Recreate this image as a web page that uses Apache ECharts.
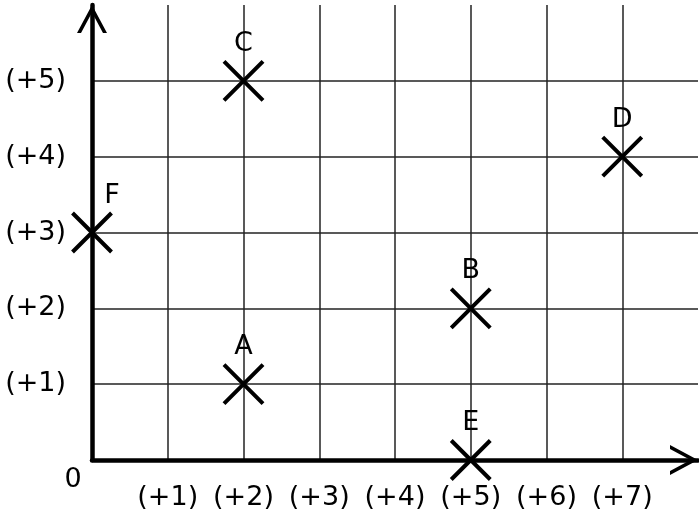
<!DOCTYPE html>
<html>
<head>
<meta charset="utf-8">
<script src="https://cdn.jsdelivr.net/npm/echarts@6/dist/echarts.min.js"></script>
<style>
  html, body { margin: 0; padding: 0; background: #fff; }
  #main { width: 699px; height: 521px; }
</style>
</head>
<body>
<div id="main"></div>
<script>
// 点的数据
const pointNames = ['A', 'B', 'C', 'D', 'E', 'F'];
const pointX = [2, 5, 2, 7, 5, 0];
const pointY = [1, 2, 5, 4, 0, 3];
// 刻度标签
const xTickLabels = ['', '(+1)', '(+2)', '(+3)', '(+4)', '(+5)', '(+6)', '(+7)'];
const yTickLabels = ['', '(+1)', '(+2)', '(+3)', '(+4)', '(+5)'];
const originLabel = '0';

const FONT = 'DejaVu Sans';
const FONT_SIZE = 27;
// 空心箭头（开口的V形）
const openArrow = 'path://M15,0L30,28L26,28L15,7.5L4,28L0,28Z';

var chartDom = document.getElementById('main');
var myChart = echarts.init(chartDom);

var points = [];
for (var i = 0; i < pointNames.length; i++) {
    var item = {
        name: pointNames[i],
        value: [pointX[i], pointY[i]]
    };
    // 在y轴上的点，标签往右挪一点
    if (pointX[i] === 0) {
        item.label = { offset: [20, -37] };
    }
    points.push(item);
}

var axisCommon = {
    type: 'value',
    min: 0,
    interval: 1,
    axisLine: {
        show: true,
        symbol: ['none', openArrow],
        symbolSize: [30, 28],
        symbolOffset: [0, -14],
        lineStyle: { color: '#000', width: 4.5 }
    },
    axisTick: { show: false },
    splitLine: {
        show: true,
        showMinLine: false,
        showMaxLine: false,
        lineStyle: { color: '#222', width: 1.5 }
    }
};

var option = {
    animation: false,
    backgroundColor: '#fff',
    grid: { left: 92, right: 1, top: 5, bottom: 61, containLabel: false, outerBoundsMode: 'none' },
    xAxis: Object.assign({}, axisCommon, {
        max: 8,
        axisLabel: {
            margin: 24,
            fontSize: FONT_SIZE,
            fontFamily: FONT,
            color: '#000',
            showMaxLabel: false,
            formatter: function (v) { return xTickLabels[v] || ''; }
        }
    }),
    yAxis: Object.assign({}, axisCommon, {
        max: 6,
        axisLabel: {
            margin: 26,
            fontSize: FONT_SIZE,
            fontFamily: FONT,
            color: '#000',
            showMaxLabel: false,
            formatter: function (v) { return yTickLabels[v] || ''; }
        }
    }),
    series: [
        {
            type: 'scatter',
            data: points,
            clip: false,
            symbol: 'path://M0,0L10,10M10,0L0,10',
            symbolSize: 39,
            itemStyle: { color: 'transparent', borderColor: '#000', borderWidth: 4, opacity: 1 },
            label: {
                show: true,
                position: 'inside',
                offset: [0, -37],
                formatter: '{b}',
                fontSize: FONT_SIZE,
                fontFamily: FONT,
                color: '#000'
            },
            z: 5
        }
    ]
};
myChart.setOption(option);

// 原点的 "0"，放在原点左下方
var origin = myChart.convertToPixel({ gridIndex: 0 }, [0, 0]);
myChart.setOption({
    graphic: [{
        type: 'text',
        x: origin[0] - 19,
        y: origin[1] + 20,
        style: {
            text: originLabel,
            fontSize: FONT_SIZE,
            fontFamily: FONT,
            fill: '#000',
            align: 'center',
            verticalAlign: 'middle'
        }
    }]
});
</script>
</body>
</html>
